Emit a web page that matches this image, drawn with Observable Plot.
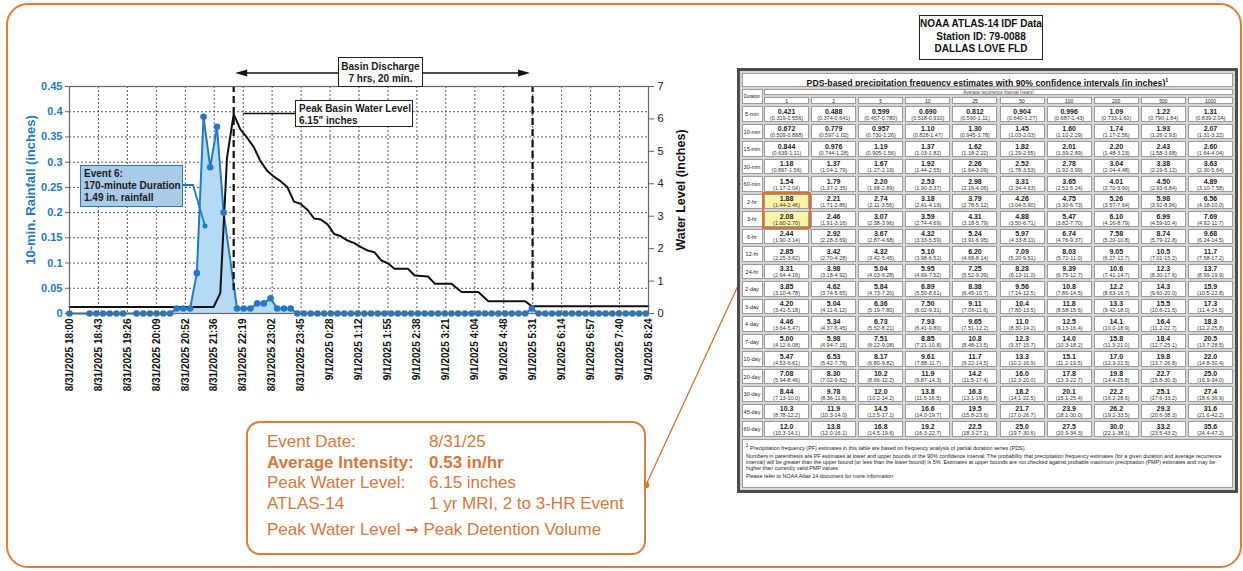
<!DOCTYPE html>
<html>
<head>
<meta charset="utf-8">
<script src="https://cdn.jsdelivr.net/npm/d3@7"></script>
<script src="https://cdn.jsdelivr.net/npm/@observablehq/plot@0.6"></script>
<style>
html,body{margin:0;padding:0;background:#fff;}
body{width:1243px;height:571px;position:relative;overflow:hidden;font-family:Arial,"Liberation Sans",Helvetica,sans-serif;}
#outer{position:absolute;left:6px;top:3px;width:1232px;height:561px;border:2px solid #E07B39;border-radius:22px;}
#chart{position:absolute;left:0;top:0;}
#overlay{position:absolute;left:0;top:0;pointer-events:none;}
.box{position:absolute;box-sizing:border-box;font-weight:bold;font-size:10px;line-height:12px;color:#1a1a1a;white-space:nowrap;}
#summary{position:absolute;left:246px;top:421px;width:400px;height:134px;box-sizing:border-box;border:2px solid #D9813F;border-radius:14px;background:#fff;}
.sum{position:absolute;font-size:17px;line-height:20px;color:#D6783C;white-space:nowrap;}
.arr{font-family:"DejaVu Sans",sans-serif;font-size:16px;font-weight:bold;}
#noaa{position:absolute;left:919px;top:15px;width:124px;height:45px;box-sizing:border-box;border:1.5px solid #222;text-align:center;font-weight:bold;font-size:10px;line-height:12.5px;padding-top:2px;color:#111;}
#pfwrap{position:absolute;left:737px;top:68px;width:501px;height:425px;box-sizing:border-box;border:3px solid #4d4d4d;background:#d6d6d6;}
.cell{position:absolute;box-sizing:border-box;background:#fff;border:1px solid #9c9c9c;text-align:center;overflow:hidden;color:#222;}
.val{font-weight:bold;font-size:7px;line-height:7px;margin-top:0.5px;}
.rng{font-size:5.5px;line-height:6.5px;color:#333;}
.dur{font-size:5.5px;line-height:15px;color:#222;}
</style>
</head>
<body>
<div id="outer"></div>
<div id="chart"></div>
<svg id="overlay" width="1243" height="571"></svg>
<div id="noaa">NOAA ATLAS-14 IDF Data<br>Station ID: 79-0088<br>DALLAS LOVE FLD</div>
<div id="pfwrap"></div>
<div id="summary"></div>
<script>
// ---------- chart data ----------
const rainStart = "2025-08-31 18:00";
const rainStepMin = 10;
const rainfall = [
  0, null, null, 0, 0, 0, 0, 0, 0, null,
  0, 0, 0, 0, 0, 0, 0.01, 0.01, 0.01, 0.08,
  0.39, 0.29, 0.37, 0.20, null, 0.01, 0.01, 0.01, 0.02, 0.02,
  0.03, 0.01, 0.01, 0.01, 0, 0, 0, 0, 0, 0,
  0, 0, 0, 0, 0, 0, 0, 0, 0, 0,
  0, 0, 0, 0, 0, 0, 0, 0, 0, 0,
  0, 0, 0, 0, 0, 0, 0, 0, 0, 0.01,
  0, 0, 0, 0, 0, 0, 0, 0, 0, 0,
  0, 0, 0, 0, 0, 0, 0
];
const waterTimes = [
  "2025-08-31 18:00","2025-08-31 21:35","2025-08-31 21:45","2025-08-31 21:55","2025-08-31 22:05",
  "2025-08-31 22:15","2025-08-31 22:25","2025-08-31 22:35","2025-08-31 22:45","2025-08-31 22:55",
  "2025-08-31 23:05","2025-08-31 23:15","2025-08-31 23:25","2025-08-31 23:35","2025-08-31 23:45",
  "2025-08-31 23:55","2025-09-01 00:05","2025-09-01 00:15","2025-09-01 00:25","2025-09-01 00:35",
  "2025-09-01 00:45","2025-09-01 00:55","2025-09-01 01:05","2025-09-01 01:15","2025-09-01 01:25",
  "2025-09-01 01:35","2025-09-01 01:45","2025-09-01 01:55","2025-09-01 02:05","2025-09-01 02:25",
  "2025-09-01 02:35","2025-09-01 02:55","2025-09-01 03:05","2025-09-01 03:30","2025-09-01 03:45",
  "2025-09-01 04:10","2025-09-01 04:25","2025-09-01 05:20","2025-09-01 05:30","2025-09-01 08:24"
];
const waterLevels = [
  0.2, 0.2, 0.63, 4.8, 6.15,
  5.68, 5.42, 5.13, 4.70, 4.40,
  4.22, 4.08, 3.90, 3.45, 3.38,
  3.20, 2.93, 2.90, 2.75, 2.45,
  2.38, 2.25, 2.17, 2.05, 1.94,
  1.89, 1.64, 1.55, 1.38, 1.38,
  1.17, 1.14, 0.92, 0.92, 0.66,
  0.66, 0.38, 0.38, 0.22, 0.22
];
const markerTimes = ["2025-08-31 22:05", "2025-09-01 05:31"]; // peak level, end of basin discharge
const xTickStepMin = 43.2;
const xTickLabels = [
  "8/31/2025 18:00","8/31/2025 18:43","8/31/2025 19:26","8/31/2025 20:09","8/31/2025 20:52",
  "8/31/2025 21:36","8/31/2025 22:19","8/31/2025 23:02","8/31/2025 23:45","9/1/2025 0:28",
  "9/1/2025 1:12","9/1/2025 1:55","9/1/2025 2:38","9/1/2025 3:21","9/1/2025 4:04",
  "9/1/2025 4:48","9/1/2025 5:31","9/1/2025 6:14","9/1/2025 6:57","9/1/2025 7:40","9/1/2025 8:24"
];
const leftTicks = [0, 0.05, 0.1, 0.15, 0.2, 0.25, 0.3, 0.35, 0.4, 0.45];
const leftTickLabels = ["0","0.05","0.1","0.15","0.2","0.25","0.3","0.35","0.4","0.45"];
const rightTicks = [0, 1, 2, 3, 4, 5, 6, 7];
const leftTitle = "10-min. Rainfall (inches)";
const rightTitle = "Water Level (inches)";

// ---------- table data ----------
const durations = ["5-min","10-min","15-min","30-min","60-min","2-hr","3-hr","6-hr","12-hr","24-hr","2-day","3-day","4-day","7-day","10-day","20-day","30-day","45-day","60-day"];
const recurrenceYears = ["1","2","5","10","25","50","100","200","500","1000"];
const pfEstimates = [
  ["0.421","0.488","0.599","0.690","0.812","0.904","0.996","1.09","1.22","1.31"],
  ["0.672","0.779","0.957","1.10","1.30","1.45","1.60","1.74","1.93","2.07"],
  ["0.844","0.976","1.19","1.37","1.62","1.82","2.01","2.20","2.43","2.60"],
  ["1.18","1.37","1.67","1.92","2.26","2.52","2.78","3.04","3.38","3.63"],
  ["1.54","1.79","2.20","2.53","2.98","3.31","3.65","4.01","4.50","4.89"],
  ["1.88","2.21","2.74","3.18","3.79","4.26","4.75","5.26","5.98","6.56"],
  ["2.08","2.46","3.07","3.59","4.31","4.88","5.47","6.10","6.99","7.69"],
  ["2.44","2.92","3.67","4.32","5.24","5.97","6.74","7.58","8.74","9.68"],
  ["2.85","3.42","4.32","5.10","6.20","7.09","8.03","9.05","10.5","11.7"],
  ["3.31","3.98","5.04","5.95","7.25","8.28","9.39","10.6","12.3","13.7"],
  ["3.85","4.62","5.84","6.89","8.38","9.56","10.8","12.2","14.3","15.9"],
  ["4.20","5.04","6.36","7.50","9.11","10.4","11.8","13.3","15.5","17.3"],
  ["4.46","5.34","6.73","7.93","9.65","11.0","12.5","14.1","16.4","18.3"],
  ["5.00","5.98","7.51","8.85","10.8","12.3","14.0","15.8","18.4","20.5"],
  ["5.47","6.53","8.17","9.61","11.7","13.3","15.1","17.0","19.8","22.0"],
  ["7.08","8.30","10.2","11.9","14.2","16.0","17.8","19.8","22.7","25.0"],
  ["8.44","9.78","12.0","13.8","16.3","18.2","20.1","22.2","25.1","27.4"],
  ["10.3","11.9","14.5","16.6","19.5","21.7","23.9","26.2","29.3","31.6"],
  ["12.0","13.8","16.8","19.2","22.5","25.0","27.5","30.0","33.2","35.6"]
];
const pfBounds = [
  ["0.319-0.556","0.374-0.641","0.457-0.780","0.518-0.910","0.590-1.11","0.640-1.27","0.687-1.43","0.733-1.60","0.790-1.84","0.839-2.04"],
  ["0.509-0.888","0.597-1.02","0.730-1.26","0.828-1.47","0.945-1.78","1.03-2.03","1.10-2.29","1.17-2.56","1.26-2.93","1.31-3.22"],
  ["0.639-1.11","0.744-1.28","0.905-1.56","1.03-1.82","1.18-2.22","1.29-2.55","1.39-2.89","1.48-3.23","1.58-3.68","1.64-4.04"],
  ["0.897-1.56","1.04-1.79","1.27-2.19","1.44-2.55","1.64-3.09","1.78-3.53","1.92-3.99","2.04-4.48","2.19-5.12","2.30-5.64"],
  ["1.17-2.04","1.37-2.35","1.68-2.89","1.90-3.37","2.16-4.06","2.34-4.63","2.52-5.24","2.70-5.90","2.93-6.84","3.10-7.58"],
  ["1.44-2.46","1.71-2.86","2.11-3.56","2.41-4.19","2.78-5.12","3.04-5.90","3.30-6.73","3.57-7.64","3.92-8.96","4.18-10.0"],
  ["1.60-2.70","1.91-3.16","2.38-3.96","2.74-4.69","3.18-5.79","3.50-6.71","3.82-7.70","4.16-8.79","4.59-10.4","4.92-11.7"],
  ["1.90-3.14","2.28-3.69","2.87-4.68","3.33-5.59","3.91-6.95","4.33-8.11","4.76-9.37","5.20-10.8","5.79-12.8","6.24-14.5"],
  ["2.25-3.62","2.70-4.28","3.42-5.45","3.98-6.52","4.68-8.14","5.20-9.51","5.72-11.0","6.27-12.7","7.01-15.2","7.58-17.2"],
  ["2.64-4.16","3.18-4.92","4.03-6.28","4.69-7.52","5.52-9.39","6.13-11.0","6.75-12.7","7.41-14.7","8.30-17.6","8.99-19.9"],
  ["3.10-4.78","3.74-5.65","4.73-7.20","5.50-8.61","6.45-10.7","7.14-12.5","7.86-14.5","8.63-16.7","9.60-20.0","10.5-22.8"],
  ["3.41-5.18","4.11-6.12","5.19-7.80","6.02-9.31","7.06-11.6","7.80-13.5","8.58-15.6","9.42-18.0","10.6-21.5","11.4-24.5"],
  ["3.64-5.47","4.37-6.45","5.52-8.21","6.41-9.80","7.51-12.2","8.30-14.2","9.13-16.4","10.0-18.9","11.2-22.7","12.2-25.8"],
  ["4.12-6.08","4.94-7.15","6.22-9.08","7.21-10.8","8.48-13.5","9.37-15.7","10.3-18.2","11.3-21.0","12.7-25.1","13.7-28.5"],
  ["4.53-6.61","5.42-7.76","6.80-9.82","7.88-11.7","9.22-14.5","10.2-16.9","11.2-19.5","12.3-22.5","13.7-26.8","14.8-30.4"],
  ["5.94-8.46","7.02-9.82","8.66-12.2","9.87-14.3","11.5-17.4","12.3-20.0","13.3-22.7","14.4-25.8","15.8-30.3","16.9-34.0"],
  ["7.13-10.0","8.36-11.6","10.2-14.2","11.5-16.5","13.1-19.8","14.1-22.5","15.1-25.4","16.2-28.6","17.6-33.2","18.6-36.9"],
  ["8.78-12.2","10.3-14.0","12.5-17.1","14.0-19.7","15.8-23.6","17.0-26.7","18.1-30.0","19.2-33.5","20.6-38.3","21.6-42.2"],
  ["10.3-14.1","12.0-16.1","14.5-19.6","16.3-22.7","18.3-27.1","19.7-30.6","20.9-34.3","22.1-38.1","23.5-43.2","24.4-47.2"]
];
const highlightRows = ["2-hr", "3-hr"];
const tableTitle = "PDS-based precipitation frequency estimates with 90% confidence intervals (in inches)";
const footnotes = [
  "<sup>1</sup> Precipitation frequency (PF) estimates in this table are based on frequency analysis of partial duration series (PDS).",
  "Numbers in parenthesis are PF estimates at lower and upper bounds of the 90% confidence interval. The probability that precipitation frequency estimates (for a given duration and average recurrence interval) will be greater than the upper bound (or less than the lower bound) is 5%. Estimates at upper bounds are not checked against probable maximum precipitation (PMP) estimates and may be higher than currently valid PMP values.",
  "Please refer to NOAA Atlas 14 document for more information."
];

// ---------- summary text ----------
const summaryRows = [
  ["Event Date:", "8/31/25", false],
  ["Average Intensity:", "0.53 in/hr", true],
  ["Peak Water Level:", "6.15 inches", false],
  ["ATLAS-14", "1 yr MRI, 2 to 3-HR Event", false]
];
const summaryLast = ["Peak Water Level", "\u2192", "Peak Detention Volume"];

// ---------- chart ----------
const MIN = 60000;
const parseT = d3.utcParse("%Y-%m-%d %H:%M");
const t0 = parseT(rainStart);
const rainData = rainfall.map((v, i) => ({t: new Date(+t0 + i * rainStepMin * MIN), v})).filter(d => d.v !== null);
const waterData = waterTimes.map((s, i) => ({t: parseT(s), v: waterLevels[i]}));
const tickDates = xTickLabels.map((s, i) => new Date(+t0 + i * xTickStepMin * MIN));
const xEnd = tickDates[tickDates.length - 1];
const leftMax = leftTicks[leftTicks.length - 1];
const rightMax = rightTicks[rightTicks.length - 1];
const k = leftMax / rightMax;
const markers = markerTimes.map(parseT);
const peakLevel = d3.max(waterLevels);
const blue = "#2379c6";
const fontFam = 'Arial, "Liberation Sans", Helvetica, sans-serif';

const chart = Plot.plot({
  width: 700, height: 420,
  marginLeft: 69, marginRight: 52, marginTop: 86, marginBottom: 107,
  style: {fontFamily: fontFam, background: "transparent", overflow: "visible"},
  x: {type: "utc", domain: [t0, xEnd], axis: null},
  y: {domain: [0, leftMax], axis: null},
  marks: [
    Plot.gridY(leftTicks, {stroke: "#333", strokeOpacity: 0.8, strokeDasharray: "2,2"}),
    Plot.gridX(tickDates, {stroke: "#333", strokeOpacity: 0.8, strokeDasharray: "2,2"}),
    Plot.areaY(rainData, {x: "t", y: "v", fill: "#b5dbf4"}),
    Plot.lineY(rainData, {x: "t", y: "v", stroke: blue, strokeWidth: 2}),
    Plot.line(waterData, {x: "t", y: d => d.v * k, stroke: "#111", strokeWidth: 2}),
    Plot.dot(rainData, {x: "t", y: "v", r: 3.3, fill: blue, stroke: "none"}),
    Plot.ruleX(markers, {y1: 0, y2: leftMax, insetTop: -23, stroke: "#111", strokeWidth: 2.2, strokeDasharray: "7,4"}),
    Plot.frame({stroke: "#666", strokeWidth: 1.2}),
    Plot.axisY(leftTicks, {anchor: "left", tickSize: 4, tickPadding: 3, stroke: "#666", fill: blue, fontWeight: "bold", fontSize: 11,
      tickFormat: d => leftTickLabels[leftTicks.indexOf(d)], label: null}),
    Plot.axisY(rightTicks.map(v => v * k), {anchor: "right", tickSize: 5, tickPadding: 4, stroke: "#666", fill: "#222", fontSize: 11,
      tickFormat: d => String(Math.round(d / k)), label: null}),
    Plot.axisX(tickDates, {tickRotate: -90, tickSize: 0, tickPadding: 5, fill: "#111", fontWeight: "bold", fontSize: 10,
      tickFormat: d => xTickLabels[tickDates.findIndex(t => +t === +d)], label: null}),
    Plot.text([leftTitle], {frameAnchor: "left", textAnchor: "middle", dx: -39, dy: -10, rotate: -90, fontSize: 13, fontWeight: "bold", fill: blue}),
    Plot.text([rightTitle], {frameAnchor: "right", textAnchor: "middle", dx: 32, dy: -10, rotate: -90, fontSize: 12.5, fontWeight: "bold", fill: "#111"})
  ]
});
document.getElementById("chart").appendChild(chart);

// ---------- annotations (positioned from the chart scales) ----------
const xs = chart.scale("x"), ys = chart.scale("y");
const xP = xs.apply(markers[0]), xE = xs.apply(markers[1]);
const yPeak = ys.apply(peakLevel * k);
const ov = d3.select("#overlay");
const arrowY = ys.apply(leftMax) - 13;
const basinBox = {left: 338, top: 57, w: 85, h: 30};
ov.append("line").attr("x1", basinBox.left).attr("x2", xP + 10).attr("y1", arrowY).attr("y2", arrowY).attr("stroke", "#111").attr("stroke-width", 1.5);
ov.append("polygon").attr("points", `${xP + 2},${arrowY} ${xP + 14},${arrowY - 3.5} ${xP + 14},${arrowY + 3.5}`).attr("fill", "#111");
ov.append("line").attr("x1", basinBox.left + basinBox.w).attr("x2", xE - 10).attr("y1", arrowY).attr("y2", arrowY).attr("stroke", "#111").attr("stroke-width", 1.5);
ov.append("polygon").attr("points", `${xE - 2},${arrowY} ${xE - 14},${arrowY - 3.5} ${xE - 14},${arrowY + 3.5}`).attr("fill", "#111");
const peakBox = {left: 295, top: 100, w: 118, h: 27};
ov.append("line").attr("x1", xP + 10).attr("x2", peakBox.left).attr("y1", yPeak).attr("y2", yPeak).attr("stroke", "#111").attr("stroke-width", 1.5);
// Event callout
const evBox = {left: 80, top: 165, w: 103, h: 42};
ov.append("polyline").attr("points", `${evBox.left + evBox.w},185 193,185 205,226`).attr("fill", "none").attr("stroke", blue).attr("stroke-width", 1.8);
ov.append("circle").attr("cx", 205).attr("cy", 226).attr("r", 2.5).attr("fill", blue);
// summary connector
ov.append("line").attr("x1", 646).attr("y1", 485).attr("x2", 761).attr("y2", 236).attr("stroke", "#D9732E").attr("stroke-width", 1.3);
ov.append("polygon").attr("points", "763,231 756.5,239 764,240").attr("fill", "#D9732E");
ov.append("circle").attr("cx", 646).attr("cy", 485).attr("r", 3.2).attr("fill", "#D9732E");

function addBox(b, html, style) {
  const d = document.createElement("div");
  d.className = "box";
  d.style.left = b.left + "px"; d.style.top = b.top + "px";
  d.style.width = b.w + "px"; d.style.height = b.h + "px";
  Object.assign(d.style, style);
  d.innerHTML = html;
  document.body.appendChild(d);
}
addBox(basinBox, "Basin Discharge<br>7 hrs, 20 min.", {background: "#fff", border: "1.5px solid #222", textAlign: "center", paddingTop: "3px"});
addBox(peakBox, "Peak Basin Water Level<br>" + peakLevel.toFixed(2) + "\" inches", {background: "#fff", border: "1.5px solid #222", paddingLeft: "3px", paddingTop: "2px"});
addBox(evBox, "Event 6:<br>170-minute Duration<br>1.49 in. rainfall", {background: "#a9cbe7", border: "1.5px solid " + blue, paddingLeft: "3px", paddingTop: "2px", lineHeight: "12px"});

// ---------- summary box ----------
const sum = document.getElementById("summary");
summaryRows.forEach((r, i) => {
  const top = 9 + i * 20.5;
  const a = document.createElement("div"); a.className = "sum"; a.style.left = "19px"; a.style.top = top + "px"; a.textContent = r[0];
  const b = document.createElement("div"); b.className = "sum"; b.style.left = "181px"; b.style.top = top + "px"; b.textContent = r[1];
  if (r[2]) { a.style.fontWeight = "bold"; b.style.fontWeight = "bold"; }
  sum.appendChild(a); sum.appendChild(b);
});
const last = document.createElement("div"); last.className = "sum"; last.style.left = "19px"; last.style.top = "97px";
last.innerHTML = `${summaryLast[0]} <span class="arr">${summaryLast[1]}</span> ${summaryLast[2]}`;
sum.appendChild(last);

// ---------- PF table ----------
const wrap = document.getElementById("pfwrap");
function cell(x, y, w, h, html, cls, extra) {
  const c = document.createElement("div");
  c.className = "cell" + (cls ? " " + cls : "");
  c.style.left = x + "px"; c.style.top = y + "px"; c.style.width = w + "px"; c.style.height = h + "px";
  if (extra) Object.assign(c.style, extra);
  c.innerHTML = html;
  wrap.appendChild(c);
  return c;
}
const innerW = 495;
const durW = 21, colX0 = 24, colPitch = (innerW - colX0) / 10, colW = colPitch - 2;
const rowY0 = 35, rowPitch = 17.5, rowH = 15.5;
cell(2, 2, innerW - 4, 14, `<div style="font-weight:bold;font-size:8.7px;line-height:13px;color:#111">${tableTitle}<sup style="font-size:5.5px">1</sup></div>`);
cell(1.5, 18, durW, 15, `<div style="font-size:4.6px;line-height:13px;letter-spacing:-0.1px">Duration</div>`);
cell(colX0, 18, innerW - colX0 - 2, 6, `<div style="font-size:4.5px;line-height:5px;color:#444">Average recurrence interval (years)</div>`);
recurrenceYears.forEach((yv, c) => cell(colX0 + c * colPitch, 26, colW, 7, `<div style="font-size:5px;line-height:6px">${yv}</div>`));
durations.forEach((dn, r) => {
  const y = rowY0 + r * rowPitch;
  cell(1.5, y, durW, rowH, `<div class="dur">${dn}</div>`);
  const hl = highlightRows.includes(dn);
  pfEstimates[r].forEach((v, c) => {
    cell(colX0 + c * colPitch, y, colW, rowH,
      `<div class="val">${v}</div><div class="rng">(${pfBounds[r][c]})</div>`,
      "", hl && c === 0 ? {background: "#fbf3a6"} : null);
  });
});
const hr0 = durations.indexOf(highlightRows[0]);
const hl = document.createElement("div");
hl.style.cssText = `position:absolute;box-sizing:border-box;border:2.5px solid #D9732E;left:${colX0 - 2}px;top:${rowY0 + hr0 * rowPitch - 2}px;width:${colW + 4}px;height:${rowPitch + rowH + 4}px;`;
wrap.appendChild(hl);
const fy = rowY0 + durations.length * rowPitch;
cell(2, fy, innerW - 4, 419 - fy - 2,
  `<div style="text-align:left;font-size:5.4px;line-height:6.2px;padding:3px 3px;color:#222">${footnotes[0]}<div style="margin-top:2px">${footnotes[1]}</div><div style="margin-top:2px">${footnotes[2]}</div></div>`);
</script>
</body>
</html>
